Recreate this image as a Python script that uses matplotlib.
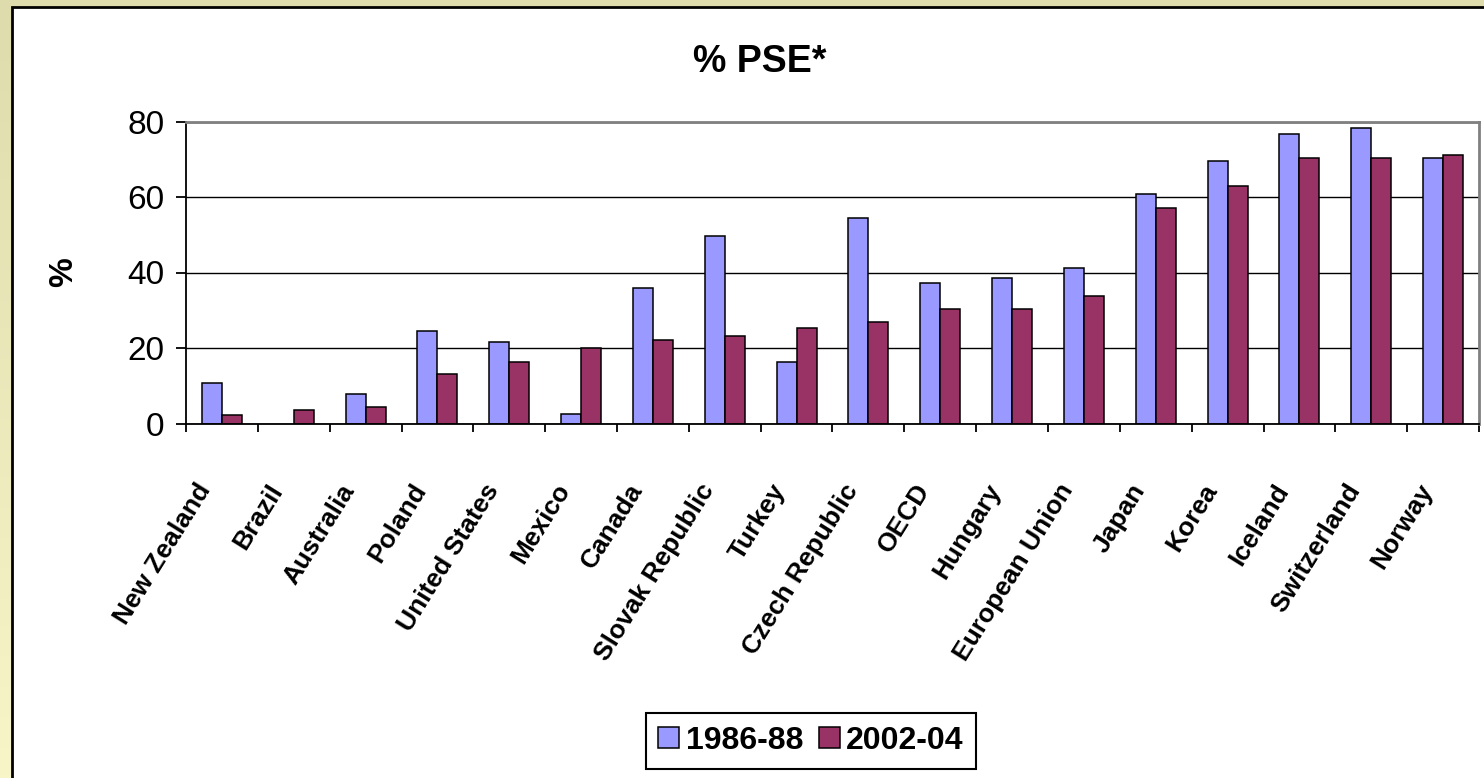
import numpy as np
import matplotlib
matplotlib.use("Agg")
import matplotlib.pyplot as plt
from matplotlib.patches import Rectangle
from matplotlib.transforms import ScaledTranslation

countries = ["New Zealand", "Brazil", "Australia", "Poland", "United States",
             "Mexico", "Canada", "Slovak Republic", "Turkey", "Czech Republic",
             "OECD", "Hungary", "European Union", "Japan", "Korea", "Iceland",
             "Switzerland", "Norway"]
pse_1986_88 = [10.6, None, 7.8, 24.4, 21.6, 2.6, 36.0, 49.8, 16.3, 54.5,
               37.1, 38.6, 41.2, 60.8, 69.5, 76.8, 78.3, 70.4]
pse_2002_04 = [2.2, 3.6, 4.3, 13.1, 16.4, 20.1, 22.2, 23.2, 25.3, 27.0,
               30.2, 30.2, 33.8, 57.2, 63.0, 70.4, 70.4, 71.0]
series_names = ["1986-88", "2002-04"]
yticks = [0, 20, 40, 60, 80]

plt.rcParams['font.family'] = ['Liberation Sans', 'DejaVu Sans']

W, H = 1484, 778
fig = plt.figure(figsize=(W / 100, H / 100), dpi=100)

# background strip + white panel
bg = fig.add_axes([0, 0, 1, 1], zorder=-10)
top_c = np.array(matplotlib.colors.to_rgb('#DEDBAC'))
bot_c = np.array(matplotlib.colors.to_rgb('#F8F6C9'))
t = np.linspace(0, 1, 256)[:, None, None]
grad = top_c * (1 - t) + bot_c * t
bg.imshow(grad, aspect='auto', extent=[0, 1, 0, 1])
bg.add_patch(Rectangle((12 / W, -0.02), 1.0, 1 - 7 / H + 0.02, transform=bg.transAxes,
                       facecolor='white', edgecolor='black', lw=2, clip_on=False))
bg.set_xlim(0, 1)
bg.set_ylim(0, 1)
bg.axis('off')

ax = fig.add_axes([186 / W, 1 - 423.5 / H, (1479 - 186) / W, (423.5 - 121.5) / H])
ax.set_facecolor('none')

x = np.arange(len(countries))
w = 0.278
v1 = np.array(pse_1986_88, dtype=float)
v2 = np.array(pse_2002_04, dtype=float)
ax.bar(x - w / 2, v1, w, color='#9999FF', edgecolor='black', lw=1.1, label=series_names[0])
ax.bar(x + w / 2, v2, w, color='#993366', edgecolor='black', lw=1.1, label=series_names[1])

ax.set_xlim(-0.5, len(countries) - 0.5)
ax.set_ylim(0, 80)
ax.set_yticks(yticks)
ax.yaxis.grid(True, color='black', lw=1.0)
ax.set_axisbelow(True)

for s in ['top', 'right']:
    ax.spines[s].set_color('#808080')
    ax.spines[s].set_linewidth(2)
for s in ['left', 'bottom']:
    ax.spines[s].set_color('black')
    ax.spines[s].set_linewidth(1.3)

ax.tick_params(axis='y', length=7.5, width=1.3, labelsize=24, pad=8)
ax.set_xticks(x)
ax.set_xticks(np.arange(-0.5, len(countries), 1), minor=True)
ax.tick_params(axis='x', which='major', length=0, pad=45)
ax.tick_params(axis='x', which='minor', length=6, width=1.3, direction='out')
ax.set_xticklabels(countries, fontsize=19, fontweight='bold')
off = ScaledTranslation(-0.16, 0, fig.dpi_scale_trans)
for lbl in ax.get_xticklabels():
    lbl.set_rotation(58)
    lbl.set_rotation_mode('anchor')
    lbl.set_ha('right')
    lbl.set_va('center')
    lbl.set_transform(lbl.get_transform() + off)

fig.text(760 / W, 1 - 62 / H, '% PSE*', ha='center', va='center', fontsize=27, fontweight='bold')
fig.text(64 / W, 1 - 272 / H, '%', ha='center', va='center', rotation=90, fontsize=24, fontweight='bold')

leg = fig.legend(loc='center', bbox_to_anchor=(811 / W, 1 - 741 / H), ncol=2,
                 prop={'size': 23, 'weight': 'bold'}, fancybox=False, edgecolor='black',
                 framealpha=1, handlelength=0.65, handleheight=0.65, handletextpad=0.2,
                 columnspacing=0.5, borderpad=0.4)
leg.get_frame().set_linewidth(1.5)

fig.savefig('out.png', dpi=100)
